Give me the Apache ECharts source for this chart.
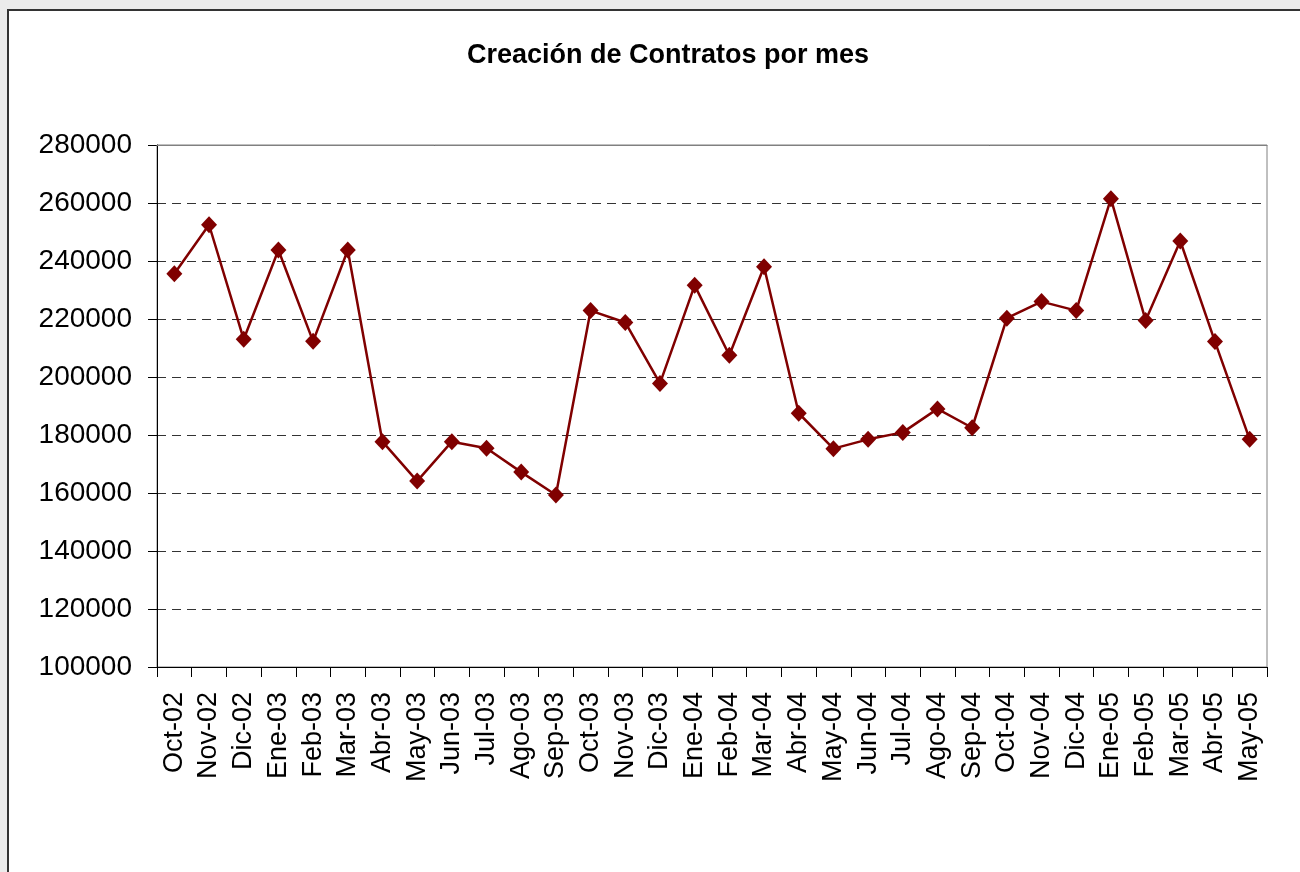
<!DOCTYPE html>
<html>
<head>
<meta charset="utf-8">
<script src="https://cdn.jsdelivr.net/npm/echarts@6/dist/echarts.min.js"></script>
<style>
    html, body { margin: 0; padding: 0; background: #ebebeb; overflow: hidden; }
    #frame { position: absolute; left: 7px; top: 9px; width: 1400px; height: 1000px; background: #fff; border: 2px solid #333; }
    #chart { position: absolute; left: 0; top: 0; width: 1300px; height: 872px; }
</style>
</head>
<body>
<div id="frame"></div>
<div id="chart"></div>
<script>
// Meses (Oct-02 a May-05)
var meses = ["Oct-02", "Nov-02", "Dic-02", "Ene-03", "Feb-03", "Mar-03", "Abr-03", "May-03",
    "Jun-03", "Jul-03", "Ago-03", "Sep-03", "Oct-03", "Nov-03", "Dic-03", "Ene-04",
    "Feb-04", "Mar-04", "Abr-04", "May-04", "Jun-04", "Jul-04", "Ago-04", "Sep-04",
    "Oct-04", "Nov-04", "Dic-04", "Ene-05", "Feb-05", "Mar-05", "Abr-05", "May-05"];

// Contratos creados por mes
var contratos = [235600, 252500, 213000, 243800, 212300, 243800, 177700, 164100,
    177700, 175400, 167200, 159300, 222900, 218800, 197800, 231600,
    207500, 238000, 187500, 175300, 178500, 180900, 189000, 182500,
    220300, 226000, 222900, 261500, 219500, 246900, 212200, 178500];

var yMin = 100000;
var yMax = 280000;
var yPaso = 20000;

var myChart = echarts.init(document.getElementById("chart"));

var fuente = "'Liberation Sans', Arial, sans-serif";

var option = {
    animation: false,
    title: {
        text: "Creación de Contratos por mes",
        left: 663,
        top: 37,
        textAlign: "center",
        textStyle: { fontFamily: fuente, fontSize: 27, fontWeight: "bold", color: "#000" }
    },
    grid: {
        left: 157,
        top: 145,
        right: 33,
        bottom: 205,
        show: true,
        borderColor: "#808080",
        borderWidth: 1,
        backgroundColor: "transparent"
    },
    xAxis: [
        {
            type: "category",
            data: meses,
            boundaryGap: true,
            axisLine: { lineStyle: { color: "#000", width: 1 } },
            axisTick: { show: true, length: 10, lineStyle: { color: "#000" } },
            axisLabel: {
                rotate: 90,
                interval: 0,
                margin: 25,
                color: "#000",
                fontFamily: fuente,
                fontSize: 27
            }
        },
        {
            type: "category",
            data: meses,
            position: "top",
            z: 5,
            axisLine: { lineStyle: { color: "#808080", width: 1 } },
            axisTick: { show: false },
            axisLabel: { show: false }
        }
    ],
    yAxis: {
        type: "value",
        min: yMin,
        max: yMax,
        interval: yPaso,
        axisLine: { show: true, lineStyle: { color: "#000", width: 1 } },
        axisTick: { show: true, length: 9, lineStyle: { color: "#000" } },
        axisLabel: {
            margin: 25,
            color: "#000",
            fontFamily: fuente,
            fontSize: 28,
            formatter: function (v) { return String(v); }
        },
        splitLine: {
            show: true,
            lineStyle: { color: "#333", width: 1, type: [9, 6] }
        }
    },
    series: [
        {
            name: "Contratos",
            type: "line",
            data: contratos,
            symbol: "diamond",
            symbolSize: [16, 17],
            lineStyle: { color: "#800000", width: 2.5 },
            itemStyle: { color: "#800000" }
        }
    ]
};

myChart.setOption(option);
</script>
</body>
</html>
